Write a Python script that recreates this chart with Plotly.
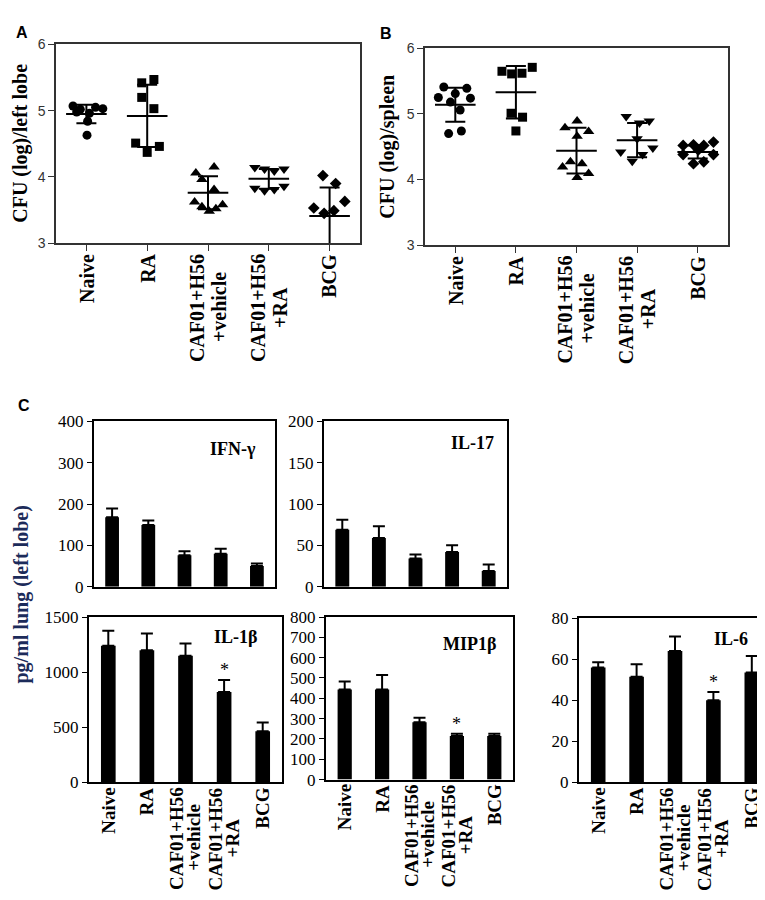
"""
Multi-panel figure: CFU scatter plots (A, B) and cytokine bar charts (C).
"""

import plotly.graph_objects as go

W, H = 765, 900
SERIF = "Liberation Serif, Times New Roman, serif"
SANS = "Liberation Sans, Arial, sans-serif"
NAVY = "#1c2b5a"

GROUPS = ["Naive", "RA", "CAF01+H56<br>+vehicle", "CAF01+H56<br>+RA", "BCG"]
SYMBOLS = ["circle", "square", "triangle-up", "triangle-down", "diamond"]
MARKER_SIZES = [9, 9, 10, 10, 9]

# Panel A: CFU (log) / left lobe, one list per group plus horizontal spread
lung_naive = [5.07, 5.05, 5.03, 5.02, 4.98, 4.96, 4.84, 4.63]
lung_naive_dx = [-0.22, 0.15, 0.27, -0.10, -0.16, 0.05, 0.02, 0.01]
lung_ra = [5.42, 5.47, 5.20, 5.03, 4.51, 4.46, 4.37]
lung_ra_dx = [-0.09, 0.11, -0.09, 0.11, -0.19, 0.20, 0.00]
lung_veh = [4.06, 4.15, 3.96, 3.81, 3.62, 3.55, 3.48, 3.52, 3.58]
lung_veh_dx = [-0.20, 0.10, -0.10, 0.10, -0.22, -0.10, 0.02, 0.13, 0.24]
lung_rax = [4.14, 4.12, 4.09, 4.12, 3.83, 3.79, 3.81, 3.86]
lung_rax_dx = [-0.23, -0.07, 0.09, 0.25, -0.23, -0.07, 0.09, 0.25]
lung_bcg = [4.02, 3.90, 3.63, 3.53, 3.45, 3.49]
lung_bcg_dx = [-0.11, 0.10, 0.25, -0.26, -0.09, 0.07]
lung_mean = [4.95, 4.92, 3.76, 3.97, 3.41]
lung_sd = [0.14, 0.47, 0.25, 0.15, 0.43]

# Panel B: CFU (log) / spleen
spleen_naive = [5.41, 5.39, 5.31, 5.25, 5.24, 5.18, 5.06, 4.70, 4.74]
spleen_naive_dx = [-0.19, 0.19, 0.00, -0.28, 0.25, -0.08, 0.08, -0.11, 0.10]
spleen_ra = [5.65, 5.71, 5.61, 5.62, 5.01, 4.95, 4.74]
spleen_ra_dx = [-0.23, 0.27, -0.07, 0.10, -0.08, 0.11, 0.00]
spleen_veh = [4.79, 4.89, 4.73, 4.66, 4.19, 4.27, 4.24, 4.09, 4.03]
spleen_veh_dx = [-0.19, 0.01, 0.20, 0.01, -0.23, -0.10, 0.09, 0.20, 0.01]
spleen_rax = [4.96, 4.86, 4.89, 4.62, 4.42, 4.48, 4.28, 4.38]
spleen_rax_dx = [-0.18, 0.04, 0.20, 0.00, -0.27, 0.26, -0.08, 0.09]
spleen_bcg = [4.52, 4.53, 4.52, 4.57, 4.38, 4.38, 4.24, 4.27, 4.45]
spleen_bcg_dx = [-0.24, -0.07, 0.10, 0.26, -0.24, 0.26, -0.07, 0.10, 0.01]
spleen_mean = [5.14, 5.33, 4.44, 4.60, 4.42]
spleen_sd = [0.26, 0.40, 0.35, 0.26, 0.10]

# Panel C: pg/ml lung (left lobe), mean and upper error
ifng = [168, 149, 76, 80, 50]
ifng_err = [21, 11, 10, 12, 6]
il17 = [69, 59, 34, 42, 19]
il17_err = [12, 14, 5, 8, 8]
il1b = [1240, 1200, 1150, 820, 465]
il1b_err = [135, 150, 110, 110, 80]
mip1b = [443, 443, 282, 214, 214]
mip1b_err = [40, 72, 22, 11, 11]
il6 = [56, 51.5, 64, 40, 53.5]
il6_err = [2.5, 6, 7, 4, 8]
STAR_GROUP = 3

# rough bold-Times width of the long first line ("CAF01+H56"), in em
LONG_LINE_EM = 5.4


def domain(x0, x1, y0, y1):
    """Pixel box (left, right, top, bottom) -> paper domains."""
    return [x0 / W, x1 / W], [1 - y1 / H, 1 - y0 / H]


def sfx(n):
    return "" if n == 1 else str(n)


fig = go.Figure()
annotations = []


def add_labels(n, shift, size, gap):
    """Rotated category labels; two-line labels get centred second lines."""
    s = sfx(n)
    for i, g in enumerate(GROUPS):
        lines = g.split("<br>")
        base = dict(x=i, xref=f"x{s}", y=0, yref=f"y{s} domain", textangle=-90,
                    xanchor="center", showarrow=False,
                    font=dict(family=SERIF, size=size, color="black"))
        if len(lines) == 1:
            annotations.append(dict(base, text=f"<b>{g}</b>", yanchor="top",
                                    yshift=shift))
        else:
            annotations.append(dict(base, text=f"<b>{lines[0]}</b>", yanchor="top",
                                    yshift=shift, xshift=-gap))
            annotations.append(dict(base, text=f"<b>{lines[1]}</b>", yanchor="middle",
                                    yshift=shift - 1 - LONG_LINE_EM * size / 2,
                                    xshift=gap))


# ---- scatter panels -------------------------------------------------------
scatter_panels = [
    dict(n=1, box=(48, 352, 28, 231), title="CFU (log)/left lobe", tx=13,
         groups=[(lung_naive, lung_naive_dx), (lung_ra, lung_ra_dx),
                 (lung_veh, lung_veh_dx), (lung_rax, lung_rax_dx),
                 (lung_bcg, lung_bcg_dx)],
         mean=lung_mean, sd=lung_sd),
    dict(n=2, box=(417, 720, 32, 233), title="CFU (log)/spleen", tx=380,
         groups=[(spleen_naive, spleen_naive_dx), (spleen_ra, spleen_ra_dx),
                 (spleen_veh, spleen_veh_dx), (spleen_rax, spleen_rax_dx),
                 (spleen_bcg, spleen_bcg_dx)],
         mean=spleen_mean, sd=spleen_sd),
]

for p in scatter_panels:
    s = sfx(p["n"])
    xd, yd = domain(*p["box"])
    for i, (vals, dx) in enumerate(p["groups"]):
        fig.add_trace(go.Scatter(
            x=[i + d for d in dx], y=vals, mode="markers",
            marker=dict(symbol=SYMBOLS[i], size=MARKER_SIZES[i], color="black"),
            xaxis=f"x{s}", yaxis=f"y{s}", cliponaxis=False,
        ))
    fig.add_trace(go.Scatter(
        x=list(range(len(GROUPS))), y=p["mean"], mode="markers",
        marker=dict(symbol="line-ew", size=29, line=dict(color="black", width=2)),
        error_y=dict(type="data", array=p["sd"], color="black", thickness=2, width=10),
        xaxis=f"x{s}", yaxis=f"y{s}",
    ))
    axis_common = dict(showline=True, linecolor="#333", linewidth=1.5, mirror=True,
                       ticks="outside", ticklen=6, tickcolor="#333", showgrid=False,
                       zeroline=False)
    fig.layout[f"xaxis{s}"] = dict(domain=xd, anchor=f"y{s}", range=[-0.5, 4.5],
                                   tickvals=list(range(5)), showticklabels=False,
                                   **axis_common)
    fig.layout[f"yaxis{s}"] = dict(domain=yd, anchor=f"x{s}", range=[3, 6], dtick=1,
                                   tickfont=dict(family=SANS, size=14, color="#333"),
                                   **axis_common)
    add_labels(p["n"], -9, 20, 11)
    y_mid = (p["box"][2] + p["box"][3]) / 2
    annotations.append(dict(
        x=p["tx"] / W, y=1 - y_mid / H, xref="paper", yref="paper",
        text=f"<b>{p['title']}</b>", textangle=-90, showarrow=False,
        xanchor="center", yanchor="middle",
        font=dict(family=SERIF, size=20, color="black"),
    ))

# ---- bar panels -----------------------------------------------------------
bar_panels = [
    dict(n=3, box=(86, 267, 413, 582), vals=ifng, err=ifng_err, rng=400, dtick=100,
         name="IFN-γ", lx=-17, ly=-28, labels=False, star=False),
    dict(n=4, box=(316, 499, 413, 582), vals=il17, err=il17_err, rng=200, dtick=50,
         name="IL-17", lx=-11, ly=-22, labels=False, star=False),
    dict(n=5, box=(81, 274, 613, 782), vals=il1b, err=il1b_err, rng=1500, dtick=500,
         name="IL-1β", lx=-22, ly=-20, labels=True, star=True),
    dict(n=6, box=(318, 505, 613, 779), vals=mip1b, err=mip1b_err, rng=800, dtick=100,
         name="MIP1β", lx=-15, ly=-27, labels=True, star=True),
    dict(n=7, box=(571, 763, 614, 782), vals=il6, err=il6_err, rng=80, dtick=20,
         name="IL-6", lx=-21, ly=-21, labels=True, star=True),
]

for p in bar_panels:
    s = sfx(p["n"])
    xd, yd = domain(*p["box"])
    fig.add_trace(go.Bar(
        x=list(range(len(GROUPS))), y=p["vals"], width=0.38,
        marker=dict(color="black", line=dict(width=0)),
        error_y=dict(type="data", symmetric=False, array=p["err"],
                     arrayminus=[0] * len(p["err"]), color="black",
                     thickness=2, width=6),
        xaxis=f"x{s}", yaxis=f"y{s}",
    ))
    axis_common = dict(showline=True, linecolor="black", linewidth=2, mirror=True,
                       showgrid=False, zeroline=False)
    fig.layout[f"xaxis{s}"] = dict(domain=xd, anchor=f"y{s}", range=[-0.5, 4.5],
                                   showticklabels=False, ticks="", **axis_common)
    fig.layout[f"yaxis{s}"] = dict(domain=yd, anchor=f"x{s}", range=[0, p["rng"]],
                                   dtick=p["dtick"], ticks="outside", ticklen=5,
                                   tickcolor="black",
                                   tickfont=dict(family=SERIF, size=17, color="black"),
                                   **axis_common)
    annotations.append(dict(
        x=1, y=1, xref=f"x{s} domain", yref=f"y{s} domain",
        xshift=p["lx"], yshift=p["ly"], xanchor="right", yanchor="middle",
        text=f"<b>{p['name']}</b>", showarrow=False,
        font=dict(family=SERIF, size=18, color="black"),
    ))
    if p["labels"]:
        add_labels(p["n"], -3, 19, 8.5)
    if p["star"]:
        annotations.append(dict(
            x=STAR_GROUP, xref=f"x{s}",
            y=p["vals"][STAR_GROUP] + p["err"][STAR_GROUP], yref=f"y{s}",
            yshift=10, yanchor="middle", text="*", showarrow=False,
            font=dict(family=SERIF, size=18, color="black"),
        ))

# ---- panel letters and shared C title ------------------------------------
for letter, lx, ly in [("A", 14, 16), ("B", 378, 17), ("C", 16, 397)]:
    annotations.append(dict(
        x=lx / W, y=1 - ly / H, xref="paper", yref="paper",
        text=f"<b>{letter}</b>", showarrow=False,
        xanchor="center", yanchor="middle",
        font=dict(family=SANS, size=16, color="black"),
    ))

annotations.append(dict(
    x=14 / W, y=1 - 590 / H, xref="paper", yref="paper",
    text="<b>pg/ml lung (left lobe)</b>", textangle=-90, showarrow=False,
    xanchor="center", yanchor="middle",
    font=dict(family=SERIF, size=20, color=NAVY),
))

fig.update_layout(
    width=W, height=H,
    margin=dict(l=0, r=0, t=0, b=0),
    paper_bgcolor="white", plot_bgcolor="white",
    showlegend=False, barmode="overlay",
    annotations=annotations,
)

fig.write_html("out.html")
